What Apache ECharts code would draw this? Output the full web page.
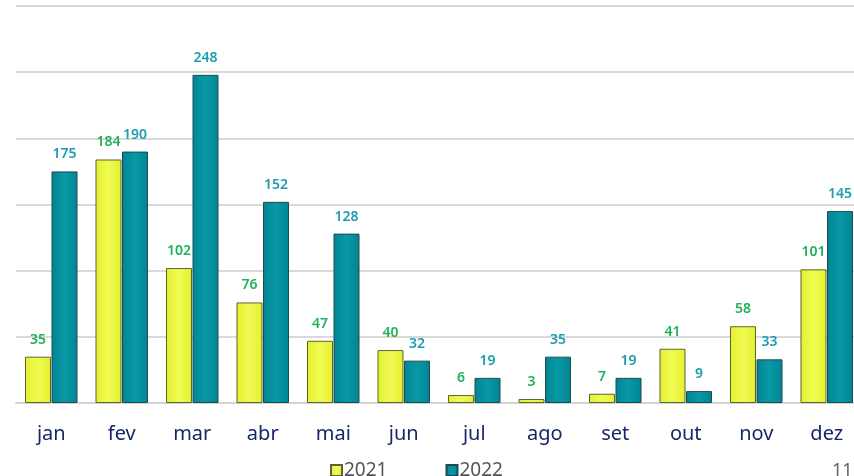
<!DOCTYPE html>
<html>
<head>
<meta charset="utf-8">
<script src="https://cdn.jsdelivr.net/npm/echarts@6/dist/echarts.min.js"></script>
<style>
  html, body { margin: 0; padding: 0; background: #fff; }
  #chart { width: 854px; height: 476px; }
</style>
</head>
<body>
<div id="chart"></div>
<script>
const months = ['jan', 'fev', 'mar', 'abr', 'mai', 'jun', 'jul', 'ago', 'set', 'out', 'nov', 'dez']
const values2021 = [35, 184, 102, 76, 47, 40, 6, 3, 7, 41, 58, 101]
const values2022 = [175, 190, 248, 152, 128, 32, 19, 35, 19, 9, 33, 145]

const chart = echarts.init(document.getElementById('chart'))

function barColor(edge, mid) {
  return new echarts.graphic.LinearGradient(0, 0, 1, 0, [
    { offset: 0, color: edge },
    { offset: 0.5, color: mid },
    { offset: 1, color: edge },
  ])
}

chart.setOption({
  animation: false,
  textStyle: { fontFamily: 'Noto Sans' },
  grid: { top: 6, left: 16, width: 846, height: 397, outerBoundsMode: 'none', containLabel: false },
  legend: {
    top: 456,
    left: 325,
    itemGap: 58,
    itemWidth: 11,
    itemHeight: 11,
    icon: 'rect',
    textStyle: { fontSize: 19, color: '#555', padding: [0, 0, 0, -3] },
    data: ['2021', '2022'],
  },
  xAxis: {
    type: 'category',
    data: months,
    axisLine: { lineStyle: { color: '#d4d4d4', width: 2 } },
    axisTick: { show: false },
    axisLabel: { color: '#16286a', fontSize: 20, margin: 21 },
  },
  yAxis: {
    type: 'value',
    min: 0,
    max: 300,
    interval: 50,
    axisLabel: { show: false },
    axisLine: { show: false },
    axisTick: { show: false },
    splitLine: { lineStyle: { color: '#d9d9d9', width: 2 } },
  },
  series: [
    {
      name: '2021',
      type: 'bar',
      data: values2021,
      barWidth: 26,
      barGap: '2%',
      itemStyle: {
        color: barColor('#e3f02e', '#f0fb52'),
        borderColor: '#5f6233',
        borderWidth: 1,
      },
      label: {
        show: true,
        position: 'top',
        distance: 10,
        color: '#20b25a',
        fontSize: 14,
        fontWeight: 600,
      },
    },
    {
      name: '2022',
      type: 'bar',
      data: values2022,
      barWidth: 26,
      itemStyle: {
        color: barColor('#008592', '#0a98a6'),
        borderColor: '#1f4a52',
        borderWidth: 1,
      },
      label: {
        show: true,
        position: 'top',
        distance: 10,
        color: '#1a9db0',
        fontSize: 14,
        fontWeight: 600,
      },
    },
  ],
  graphic: [
    {
      type: 'text',
      left: 832,
      top: 462,
      style: { text: '11', fontSize: 18, fill: '#666', fontFamily: 'Noto Sans' },
    },
  ],
})
</script>
</body>
</html>
